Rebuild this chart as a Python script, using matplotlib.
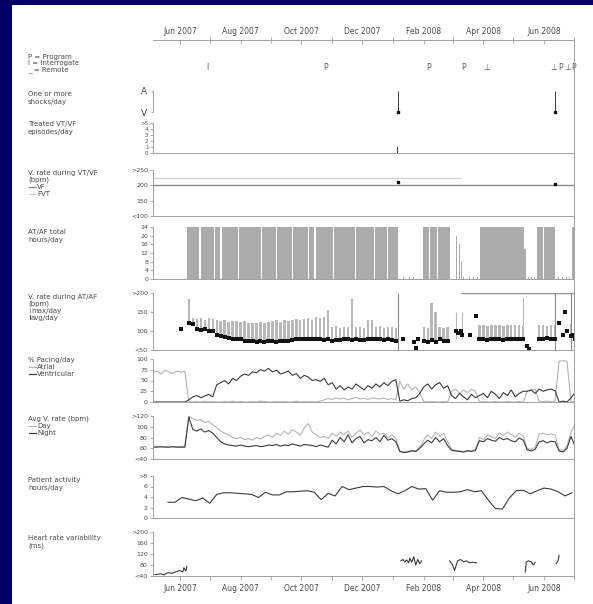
import numpy as np
import pandas as pd
import matplotlib
matplotlib.use("Agg")
import matplotlib.pyplot as plt
import matplotlib.dates as mdates
from matplotlib.lines import Line2D
from matplotlib.patches import Rectangle

W, H = 593, 604
NAVY = "#000066"
DARK = "#3a3a3a"
LIGHT = "#b4b4b4"
BARC = "#ababab"
SPINE = "#a0a0a0"
TXT = "#4a4a4a"

START = pd.Timestamp("2007-05-05")
END = pd.Timestamp("2008-07-01")

# ---- session events (P = program, I = interrogate, ⊥ = remote)
event_dates = ["2007-06-29", "2007-10-25", "2008-02-06", "2008-03-12", "2008-04-04",
               "2008-06-11", "2008-06-18", "2008-06-25", "2008-07-01"]
event_codes = ["I", "P", "P", "P", "⊥", "⊥", "P", "⊥", "P"]

# ---- shocks / VT-VF
shock_dates = ["2008-01-06", "2008-06-12"]
vtvf_episodes = [1, 1]
vtvf_rates = [212, 205]
vf_zone = 200
fvt_zone = 225
fvt_end = "2008-03-09"

# ---- AT/AF episodes (hours/day)
af_start = ["2007-06-08", "2007-06-22", "2007-07-06", "2007-07-13", "2007-07-30", "2007-08-23",
            "2007-09-07", "2007-09-23", "2007-10-09", "2007-10-16", "2007-11-03", "2007-11-25",
            "2007-12-14", "2007-12-27", "2008-01-31", "2008-02-07", "2008-02-15", "2008-03-04",
            "2008-03-07", "2008-03-09", "2008-03-29", "2008-05-12", "2008-05-25", "2008-06-01",
            "2008-06-29"]
af_end = ["2007-06-20", "2007-07-05", "2007-07-11", "2007-07-29", "2007-08-22", "2007-09-06",
          "2007-09-22", "2007-10-08", "2007-10-14", "2007-11-02", "2007-11-24", "2007-12-13",
          "2007-12-26", "2008-01-06", "2008-02-06", "2008-02-14", "2008-02-27", "2008-03-05",
          "2008-03-08", "2008-03-10", "2008-05-12", "2008-05-14", "2008-05-31", "2008-06-12",
          "2008-07-01"]
af_hours = [24, 24, 24, 24, 24, 24, 24, 24, 24, 24, 24, 24, 24, 24, 24, 24, 24, 20,
            16, 8, 24, 14, 24, 24, 24]
af_short_days = [252, 258, 262, 312, 318, 322, 326, 377, 380, 383, 407, 411, 415, 418]  # days after 5 May 2007
af_short_hours = [1, 1, 1, 1, 1, 1, 1, 1, 1, 1, 1, 1, 1, 1]

# ---- daily summaries, sampled every 4 days from 5 May 2007
atrial_pacing = [68, 72, 65, 74, 70, 66, 72, 69, 72,
                 1, 0, 1, 0, 2, 0, 1, 0, 0, 1, 0, 2, 0, 1, 0, 0, 1, 0, 2, 1, 0, 0, 1, 0, 1, 0, 0, 2, 0, 1, 0, 1, 0, 2,
                 5, 8, 6, 10, 7, 9, 5, 8, 11, 7, 9, 6, 10, 8, 7, 9, 6, 8, 5,
                 48, 30, 42, 28, 35, 22,
                 1, 0, 1, 0, 0, 1, 0,
                 25, 30, 20, 28, 22, 30, 25,
                 0, 1, 0, 0, 1, 0, 0, 1, 0, 0, 1, 0,
                 25, 28, 30,
                 2, 1, 2, 1, 2,
                 95, 96, 95,
                 0, 2]
ventricular_pacing = [0, 0, 0, 0, 0, 0, 0, 0, 0,
                      5, 12, 15, 10, 14, 18, 12,
                      40, 45, 50, 42, 55, 50, 60, 65, 62, 70,
                      68, 75, 72, 78, 70, 74, 65, 68, 72, 62,
                      66, 55, 62, 58, 50, 52, 48, 55, 40, 45,
                      30, 38, 28, 35, 30, 42, 35, 28, 38, 32,
                      42, 35, 45, 38, 48, 52,
                      2, 5, 3, 8, 10, 20,
                      35, 42, 30, 40, 45, 32, 38,
                      15, 8, 20, 12, 5, 18, 10,
                      15, 20, 10, 25, 18, 8, 22, 15, 28, 12, 20, 25,
                      25, 28, 20,
                      30, 25, 28, 30, 26,
                      0, 2, 0,
                      10, 22]
day_rate = [63, 64, 62, 63, 64, 62, 63, 63, 64,
            120, 115, 112, 113, 108, 110, 104,
            98, 92, 88, 85, 80, 78, 80, 76, 78, 75,
            80, 77, 82, 85, 80, 88, 84, 92, 86, 95,
            90, 84, 98, 106, 90, 85, 80, 82, 78, 88,
            82, 90, 85, 92, 80, 88, 94, 85, 90, 82,
            92, 86, 88, 80, 85, 78,
            55, 53, 54, 56, 55, 62,
            75, 85, 78, 90, 82, 88, 72,
            58, 56, 55, 54, 56, 55, 58,
            80, 76, 85, 82, 78, 88, 84, 90, 86, 80, 88, 82,
            60, 58, 62,
            86, 88, 85, 87, 84,
            58, 55, 65,
            90, 104]
night_rate = [62, 62, 63, 62, 62, 63, 62, 62, 62,
              118, 95, 92, 96, 90, 93, 88,
              80, 72, 68, 66, 65, 64, 66, 64, 63, 64,
              65, 63, 64, 66, 65, 67, 64, 66, 65, 68,
              66, 64, 67, 66, 65, 63, 66, 64, 62, 75,
              68, 80, 72, 85, 70, 78, 82, 70, 76, 74,
              80, 72, 84, 75, 78, 72,
              54, 52, 53, 55, 54, 60,
              68, 75, 70, 80, 72, 78, 65,
              56, 55, 54, 53, 55, 54, 56,
              74, 72, 78, 75, 73, 80, 76, 78, 74, 72, 79, 75,
              57, 55, 58,
              72, 74, 70, 73, 72,
              55, 53, 60,
              82, 64]
N = None
af_max_rate = [N, N, N, N, N, N, N, N, N,
               185, 135, 132, 134, 130, 133, 131,
               128, 126, 128, 125, 127, 126, 124, 126, 122, 122,
               120, 124, 121, 123, 126, 128, 125, 130, 127, 129,
               132, 128, 131, 134, 130, 136, 133, 138, 155, 110,
               112, 109, 111, 110, 185, 110, 111, 109, 130, 130,
               110, 112, 109, 111, 110, 108,
               N, N, N, N, N, N,
               110, 108, 175, 150, 110, 108, 110,
               N, N, N, N, N, N, N,
               115, 116, 114, 117, 115, 116, 114, 115, 117, 116, 115, 114,
               N, N, N,
               115, 116, 114, 115, 117,
               N, N, N,
               118, 120]
af_avg_rate = [N, N, N, N, N, N, N, N, N,
               120, 118, 104, 102, 105, 101, 100,
               90, 86, 84, 82, 80, 79, 78, 75, 74, 73,
               72, 73, 72, 74, 73, 72, 74, 75, 73, 76,
               78, 80, 79, 78, 80, 79, 78, 77, 80, 75,
               77, 76, 78, 79, 77, 78, 76, 77, 79, 78,
               80, 79, 77, 78, 76, 75,
               N, N, N, N, N, N,
               74, 70, 76, 72, 78, 75, 73,
               N, N, N, N, N, N, N,
               78, 79, 77, 78, 80, 78, 77, 79, 78, 80, 78, 79,
               N, N, N,
               80, 79, 81, 80, 78,
               N, N, N,
               88, 80]
extra_avg_days = [28, 251, 262, 264, 266, 304, 306, 309, 310, 319, 325, 376, 378, 408, 412, 414, 416, 422]
extra_avg_vals = [105, 78, 70, 55, 80, 100, 95, 100, 90, 90, 140, 60, 52, 120, 90, 150, 100, 90]
spike_days = [304, 310, 372]
spike_vals = [150, 150, 190]
full_spike_dates = ["2008-01-06", "2008-06-12", "2008-06-28"]

# ---- patient activity, weekly from 20 May 2007
activity = [3.0, 3.0, 3.9, 3.6, 3.3, 3.8, 2.8, 4.5, 4.8, 4.8, 4.7, 4.6, 4.5, 3.9, 4.9,
            4.4, 4.4, 5.0, 5.0, 5.1, 5.2, 4.9, 3.5, 4.7, 4.2, 6.0, 5.4, 5.7, 6.0, 6.0,
            5.9, 6.0, 5.2, 4.6, 5.2, 6.0, 5.5, 5.6, 3.4, 5.2, 4.9, 4.9, 5.0, 5.4, 5.0,
            5.2, 3.4, 1.8, 1.7, 3.8, 5.2, 5.3, 4.6, 5.2, 5.7, 5.5, 5.0, 4.2, 4.8]

# ---- heart rate variability (days after 5 May 2007, gaps = no data)
hrv_days = [2, 8, 11, 15, 19, 23, 27, 30, 31, 33, 34, N,
            249, 251, 253, 255, 257, 258, 260, 262, 264, 266, 268, 270, N,
            298, 301, 303, 306, 309, 312, 315, 318, 321, 325, N,
            374, 375, 377, 380, 382, 384, N,
            405, 407, 408]
hrv_vals = [45, 48, 44, 52, 50, 55, 60, 55, 70, 58, 75, N,
            95, 100, 92, 98, 88, 105, 90, 110, 80, 100, 85, 95, N,
            95, 80, 60, 95, 100, 92, 95, 88, 90, 88, N,
            55, 90, 95, 92, 80, 90, N,
            85, 95, 115]

t0 = mdates.date2num(START)
t1 = mdates.date2num(END)


def dnum(d):
    return mdates.date2num(pd.to_datetime(d))


def after_start(offsets):
    return t0 + np.asarray(offsets, dtype=float)


def fx(px):
    return px / W


def fy(py):
    return 1 - py / H


def panel(top, bottom, ylim, ticks, labels, bottom_spine=True, labelsize=4.5):
    ax = fig.add_axes([fx(153), fy(bottom), fx(574) - fx(153), (bottom - top) / H])
    ax.set_facecolor("none")
    ax.set_xlim(t0, t1)
    ax.set_ylim(*ylim)
    ax.spines["top"].set_visible(False)
    ax.spines["right"].set_visible(False)
    ax.spines["left"].set_color(SPINE)
    ax.spines["bottom"].set_color(SPINE)
    ax.spines["left"].set_linewidth(0.7)
    ax.spines["bottom"].set_linewidth(0.7)
    ax.spines["bottom"].set_visible(bottom_spine)
    ax.set_yticks(ticks)
    ax.set_yticklabels(labels)
    ax.tick_params(axis="y", length=2.5, width=0.6, color=SPINE, labelsize=labelsize,
                   labelcolor=TXT, pad=1.2)
    ax.tick_params(axis="x", bottom=False, labelbottom=False)
    return ax


def month_axis(ax, where):
    ax.xaxis.set_major_locator(mdates.MonthLocator(bymonth=[2, 4, 6, 8, 10, 12]))
    ax.xaxis.set_minor_locator(mdates.MonthLocator(bymonth=[1, 3, 5, 7, 9, 11]))
    ax.xaxis.set_major_formatter(mdates.DateFormatter("%b %Y"))
    if where == "top":
        ax.tick_params(axis="x", which="both", top=True, labeltop=True, bottom=False,
                       labelbottom=False, color=SPINE, width=0.6)
        ax.tick_params(axis="x", which="major", direction="in", length=3, labelsize=5.5,
                       labelcolor=TXT, pad=3)
        ax.tick_params(axis="x", which="minor", direction="inout", length=5)
    else:
        ax.tick_params(axis="x", which="both", bottom=True, labelbottom=True, color=SPINE,
                       width=0.6)
        ax.tick_params(axis="x", which="major", direction="out", length=3, labelsize=5.5,
                       labelcolor=TXT, pad=3)
        ax.tick_params(axis="x", which="minor", direction="out", length=3)


def label(x, y, s, size=5.0, color=TXT):
    fig.text(fx(x), fy(y), s, fontsize=size, color=color, ha="left", va="center")


def legend_line(x0, x1, y, color, lw=0.9):
    fig.add_artist(Line2D([fx(x0), fx(x1)], [fy(y), fy(y)], color=color, lw=lw))


fig = plt.figure(figsize=(W / 100, H / 100), dpi=100, facecolor=NAVY)
fig.patches.append(Rectangle((fx(12), 0), 1 - fx(12), fy(5), transform=fig.transFigure,
                             facecolor="white", edgecolor="none", zorder=-5))

grid = mdates.date2num(pd.date_range(START, periods=len(day_rate), freq="4D"))

# top axis with events
ax_top = fig.add_axes([fx(153), fy(80), fx(574) - fx(153), 40 / H])
ax_top.set_facecolor("none")
ax_top.set_xlim(t0, t1)
ax_top.set_ylim(0, 1)
for s in ["left", "right", "bottom"]:
    ax_top.spines[s].set_visible(False)
ax_top.spines["top"].set_color(SPINE)
ax_top.spines["top"].set_linewidth(0.7)
ax_top.set_yticks([])
month_axis(ax_top, "top")
for d, c in zip(event_dates, event_codes):
    ax_top.text(dnum(d), 0.3, c, fontsize=5.5, color="#555555", ha="center", va="center",
                clip_on=False)

# shocks
ax_sh = panel(91, 112, (0, 1), [0, 1], ["V", "A"], bottom_spine=False, labelsize=6.5)
ax_sh.tick_params(axis="y", length=1.5, pad=3)
ax_sh.vlines(dnum(shock_dates), 0, 1, color=DARK, lw=0.7)
ax_sh.plot(dnum(shock_dates), [0, 0], "s", color="#111111", ms=1.8, clip_on=False)

# treated VT/VF episodes
ax_ep = panel(123, 153, (0, 5), [0, 1, 2, 3, 4, 5], ["0", "1", "2", "3", "4", ">5"],
              labelsize=4.0)
ax_ep.tick_params(axis="y", length=2)
ax_ep.bar(dnum(shock_dates), vtvf_episodes, width=0.8, color=DARK)

# V rate during VT/VF
ax_vt = panel(170, 216, (100, 250), [100, 150, 200, 250], ["<100", "150", "200", ">250"])
ax_vt.axhline(vf_zone, color="#8a8a8a", lw=1.0)
ax_vt.hlines(fvt_zone, t0, dnum(fvt_end), color="#d4d4d4", lw=1.0)
ax_vt.plot(dnum(shock_dates), vtvf_rates, "s", color="#111111", ms=1.6)

# AT/AF total hours
ax_af = panel(227, 279, (0, 24), [0, 4, 8, 12, 16, 20, 24],
              ["0", "4", "8", "12", "16", "20", "24"])
ax_af.tick_params(axis="y", length=2)
starts = dnum(af_start)
ends = dnum(af_end)
ax_af.bar(starts, af_hours, width=ends - starts, align="edge", color=BARC, lw=0)
ax_af.bar(after_start(af_short_days), af_short_hours, width=1.0, color=BARC, lw=0)

# V rate during AT/AF
ax_vr = panel(293, 350, (50, 200), [50, 100, 150, 200], ["<50", "100", "150", ">200"])
amax = np.array(af_max_rate, dtype=float)
aavg = np.array(af_avg_rate, dtype=float)
ax_vr.bar(grid, amax - aavg, bottom=aavg, width=2.4, color="#b8b8b8", lw=0)
ax_vr.vlines(after_start(spike_days), 80, spike_vals, color="#b8b8b8", lw=0.8)
ax_vr.vlines(dnum(full_spike_dates), 50, 200, color="#8c8c8c", lw=0.8)
ax_vr.hlines(200, dnum(fvt_end), t1, color="#8c8c8c", lw=1.0)
ax_vr.plot(grid, aavg, "s", color="#111111", ms=2.3, mew=0)
ax_vr.plot(after_start(extra_avg_days), extra_avg_vals, "s", color="#111111", ms=2.3, mew=0)

# % pacing
ax_pc = panel(359, 402, (0, 100), [0, 25, 50, 75, 100], ["0", "25", "50", "75", "100"])
ax_pc.plot(grid, atrial_pacing, color=LIGHT, lw=0.8)
ax_pc.plot(grid, ventricular_pacing, color=DARK, lw=0.8)

# avg V rate
ax_rt = panel(416, 459, (40, 120), [40, 60, 80, 100, 120], ["<40", "60", "80", "100", ">120"])
ax_rt.plot(grid, day_rate, color=LIGHT, lw=0.8)
ax_rt.plot(grid, night_rate, color=DARK, lw=0.8)

# activity
act_x = mdates.date2num(pd.date_range("2007-05-20", periods=len(activity), freq="7D"))
ax_ac = panel(476, 518, (0, 8), [0, 2, 4, 6, 8], ["0", "2", "4", "6", ">8"])
ax_ac.plot(act_x, activity, color=DARK, lw=0.8)

# heart rate variability
ax_hr = panel(532, 576, (40, 200), [40, 80, 120, 160, 200], ["<40", "80", "120", "160", ">200"])
hd = np.array(hrv_days, dtype=float)
hv = np.array(hrv_vals, dtype=float)
ax_hr.plot(t0 + hd, hv, color=DARK, lw=0.8)
month_axis(ax_hr, "bottom")

# right border line
fig.add_artist(Line2D([fx(574), fx(574)], [fy(40), fy(578)], color=SPINE, lw=0.7))

# left-hand labels
label(28, 57, "P = Program")
label(28, 63.5, "I = Interrogate")
label(28, 70, "_ = Remote")
label(28, 94, "One or more")
label(28, 102, "shocks/day")
label(28, 124, "Treated VT/VF")
label(28, 132, "episodes/day")
label(28, 173, "V. rate during VT/VF")
label(28, 180, "(bpm)")
legend_line(29, 36, 187, "#8a8a8a")
label(37, 187, "VF")
legend_line(29, 36, 193.5, "#cccccc")
label(37, 193.5, "FVT")
label(28, 232, "AT/AF total")
label(28, 240, "hours/day")
label(28, 297, "V. rate during AT/AF")
label(28, 304, "(bpm)")
label(31, 311, "max/day")
label(31, 317.5, "avg/day")
fig.add_artist(Line2D([fx(29.5), fx(29.5)], [fy(313), fy(308)], color="#999999", lw=0.6))
fig.add_artist(Line2D([fx(29.5), fx(29.5)], [fy(319), fy(315)], color="#222222", lw=0.6))
label(28, 360, "% Pacing/day")
legend_line(29, 36, 367, LIGHT)
label(37, 367, "Atrial")
legend_line(29, 36, 374, DARK)
label(37, 374, "Ventricular")
label(28, 419, "Avg V. rate (bpm)")
legend_line(29, 36, 426, LIGHT)
label(37, 426, "Day")
legend_line(29, 36, 433, DARK)
label(37, 433, "Night")
label(28, 480, "Patient activity")
label(28, 488, "hours/day")
label(28, 538, "Heart rate variability")
label(28, 546, "(ms)")

fig.savefig("out.png", dpi=100, facecolor=NAVY)
